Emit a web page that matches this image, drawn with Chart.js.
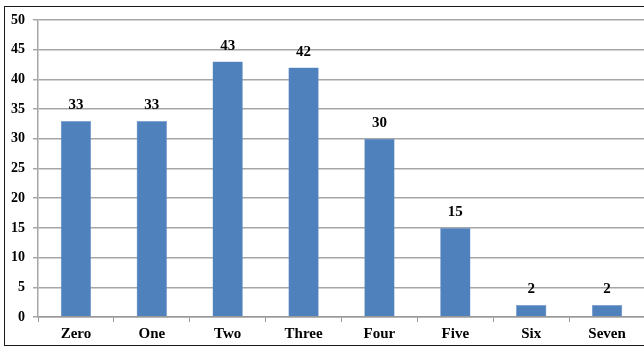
<!DOCTYPE html>
<html>
<head>
<meta charset="utf-8">
<script src="https://cdn.jsdelivr.net/npm/chart.js@4/dist/chart.umd.min.js"></script>
<style>
  html, body { margin: 0; padding: 0; background: #fff; overflow: hidden; }
  #wrap { position: absolute; left: 0; top: 0; width: 645px; height: 347px; }
  #frame { position: absolute; left: 4px; top: 6px; width: 720px; height: 338px; border: 1px solid #1a1a1a; }
</style>
</head>
<body>
<div id="frame"></div>
<div id="wrap"><canvas id="myChart"></canvas></div>
<script>
var categories = ["Zero", "One", "Two", "Three", "Four", "Five", "Six", "Seven"];
var counts = [33, 33, 43, 42, 30, 15, 2, 2];
var yTicks = [0, 5, 10, 15, 20, 25, 30, 35, 40, 45, 50];

// draws the value above every bar
var barValues = {
    id: 'barValues',
    afterDatasetsDraw: function(chart) {
        var ctx = chart.ctx;
        ctx.save();
        ctx.font = 'bold 15px "Liberation Serif", serif';
        ctx.fillStyle = '#000';
        ctx.textAlign = 'center';
        ctx.textBaseline = 'bottom';
        chart.getDatasetMeta(0).data.forEach(function(bar, i) {
            ctx.fillText(chart.data.datasets[0].data[i], bar.x, bar.y - 8);
        });
        ctx.restore();
    }
};

var ctx = document.getElementById('myChart').getContext('2d');
var chart = new Chart(ctx, {
    type: 'bar',
    data: {
        labels: categories,
        datasets: [{
            data: counts,
            backgroundColor: '#4f81bd',
            borderColor: '#6f97c9',
            borderWidth: 0.5,
            barPercentage: 0.4,
            categoryPercentage: 1.0
        }]
    },
    options: {
        responsive: true,
        maintainAspectRatio: false,
        animation: false,
        layout: { padding: { top: 20, left: 0, right: 0, bottom: 0 } },
        plugins: {
            legend: { display: false },
            tooltip: { enabled: false }
        },
        scales: {
            x: {
                afterFit: function(scale) { scale.height = 30; },
                grid: {
                    offset: true,
                    drawOnChartArea: false,
                    drawTicks: true,
                    tickLength: 5,
                    color: '#999',
                    lineWidth: 1
                },
                border: { color: '#999', width: 1.5 },
                ticks: {
                    color: '#000',
                    padding: 3,
                    font: { family: '"Liberation Serif", serif', size: 15, weight: 'bold' }
                }
            },
            y: {
                min: 0,
                max: 50,
                afterFit: function(scale) { scale.width = 38; },
                afterBuildTicks: function(scale) {
                    scale.ticks = yTicks.map(function(v) { return { value: v }; });
                },
                grid: {
                    color: '#a6a6a6',
                    lineWidth: 1.5,
                    tickLength: 5
                },
                border: { color: '#a6a6a6', width: 1.5 },
                ticks: {
                    color: '#000',
                    padding: 8,
                    font: { family: '"Liberation Serif", serif', size: 14, weight: 'bold' }
                }
            }
        }
    },
    plugins: [barValues]
});
</script>
</body>
</html>
